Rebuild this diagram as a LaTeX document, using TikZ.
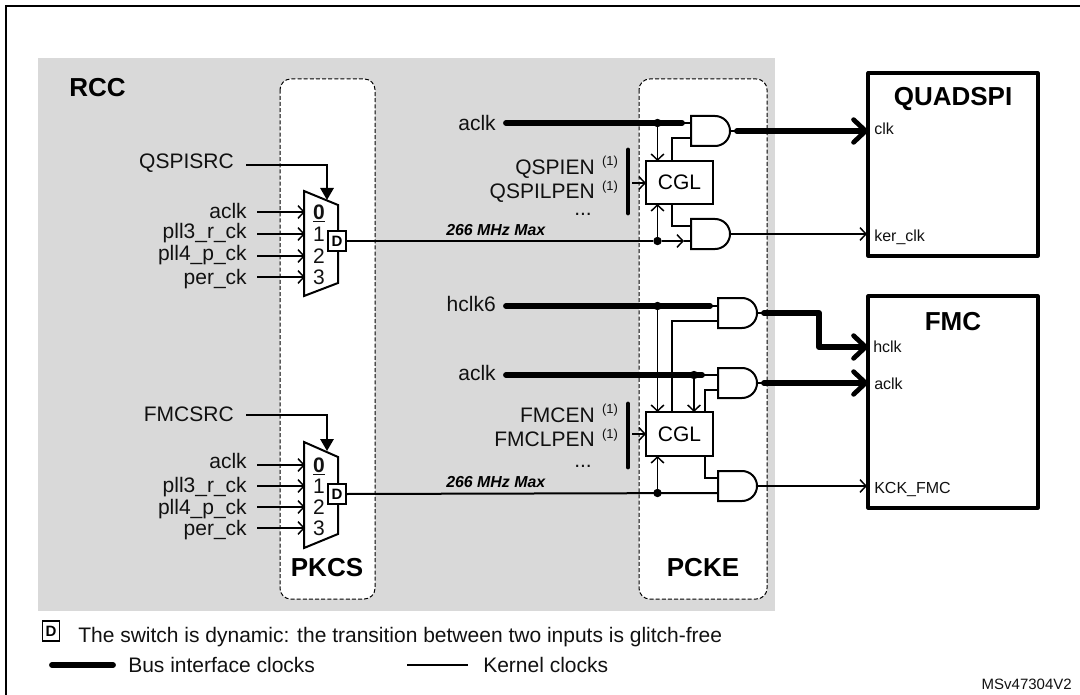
\documentclass[tikz,border=0pt]{standalone}
\usepackage{fontspec}
\setmainfont{Liberation Sans}
\usetikzlibrary{arrows.meta}
\newcommand{\pxf}[1]{\fontsize{\dimexpr #1pt*3/4\relax}{\dimexpr #1pt*3/4\relax}\selectfont}
\definecolor{rccgray}{HTML}{D9D9D9}
\definecolor{inkc}{HTML}{111111}
\tikzset{
  x=0.75pt,y=-0.75pt,
  barbS/.tip={Straight Barb[length=4.5pt,width=9.5pt,line width=1.1pt]},
  barbB/.tip={Straight Barb[round,length=9pt,width=17pt,line width=3.6pt]},
  fillT/.tip={Triangle[length=9pt,width=10pt]},
  thin line/.style={line width=1.1pt,color=black},
  clk/.style={line width=1.5pt,color=black},
  bus/.style={line width=4.4pt,color=black,line cap=round,line join=round},
  sig/.style={thin line,-barbS},
  dotn/.style={circle,fill=black,inner sep=0pt,minimum size=6.3pt},
  lab/.style={anchor=mid east,inner sep=0pt,text=inkc,font=\pxf{21},yshift=-2.8pt},
  num/.style={anchor=mid,inner sep=0pt,text=inkc,font=\pxf{21},yshift=-2.8pt},
  port/.style={anchor=mid west,inner sep=0pt,text=inkc,font=\pxf{16},yshift=-2.2pt},
  heading/.style={anchor=mid,inner sep=0pt,font=\pxf{26}\bfseries,yshift=-4pt},
  sup1/.style={anchor=mid,inner sep=0pt,text=inkc,font=\pxf{13},yshift=-1.8pt},
  freq/.style={anchor=mid west,inner sep=0pt,font=\pxf{15.9}\bfseries\itshape,yshift=-1.8pt},
  legend/.style={anchor=mid west,inner sep=0pt,text=inkc,font=\pxf{21},yshift=-2.8pt},
  dash box/.style={draw=black,fill=white,line width=0.75pt,dashed,dash pattern=on 3pt off 1.6pt,rounded corners=8pt},
  dbox/.style={draw=black,fill=white,line width=1.5pt,inner sep=0pt,minimum width=13pt,minimum height=15pt,font=\pxf{15}\bfseries},
  cgl/.style={draw=black,fill=white,line width=1.5pt,inner sep=0pt,minimum width=50pt,minimum height=32.5pt,font=\pxf{21}},
  periph/.style={draw=black,fill=white,line width=2.4pt,line join=round},
  gate/.style={draw=black,fill=white,line width=1.5pt},
  mux/.style={draw=black,fill=white,line width=1.5pt,line join=miter},
}
\begin{document}
\begin{tikzpicture}
\useasboundingbox (0,0) rectangle (1080,695);
% frame
\draw[line width=1.6pt,black] (6,700) -- (6,6) -- (1085,6);
\fill[rccgray] (38,58) rectangle (775,611);
\draw[dash box] (280,79) rectangle (375,599);
\draw[dash box] (639,79) rectangle (767,599);
\node[heading,anchor=mid west] (rcc) at (69,88) {RCC};
\node[heading] (pkcs) at (327,568) {PKCS};
\node[heading] (pcke) at (703,568) {PCKE};

% mux 1
\draw[mux] (304,191) -- (338,205) -- (338,283) -- (304,296) -- cycle;
\coordinate (sel1) at (327,200);
\node[lab] (qsrc) at (234,161) {QSPISRC};
\coordinate (qs) at (246,165);
\draw[clk,-{fillT}] (qs) -| (sel1);
\foreach \n/\t/\yl/\yi/\d in {a/aclk/211/212/\underline{\textbf{0}},b/pll3\_r\_ck/231/234/1,c/pll4\_p\_ck/253/256/2,d/per\_ck/277/277/3}{
  \node[lab] (l1\n) at (247,\yl) {\t};
  \coordinate (s1\n) at (257,\yi);
  \coordinate (e1\n) at (305,\yi);
  \node[num] (n1\n) at (319,\yi) {\d};
  \draw[sig] (s1\n) -- (e1\n);
}
\node[dbox] (d1) at (337,241) {D};

% mux 2
\draw[mux] (304,442) -- (338,457) -- (338,534) -- (304,548) -- cycle;
\coordinate (sel2) at (327,451);
\node[lab] (fsrc) at (234,414) {FMCSRC};
\coordinate (fs) at (246,415);
\draw[clk,-{fillT}] (fs) -| (sel2);
\foreach \n/\t/\yl/\yi/\d in {a/aclk/461/465/\underline{\textbf{0}},b/pll3\_r\_ck/485/486/1,c/pll4\_p\_ck/507/507/2,d/per\_ck/528/528/3}{
  \node[lab] (l2\n) at (247,\yl) {\t};
  \coordinate (s2\n) at (257,\yi);
  \coordinate (e2\n) at (305,\yi);
  \node[num] (n2\n) at (319,\yi) {\d};
  \draw[sig] (s2\n) -- (e2\n);
}
\node[dbox] (d2) at (337,494) {D};

% peripherals
\draw[periph] (868,73) rectangle (1038,256);
\draw[periph] (868,296) rectangle (1038,508);
\node[heading] (qspi) at (953,97) {QUADSPI};
\node[heading] (fmc) at (953,322) {FMC};
\node[port] (pclk) at (874,128) {clk};
\node[port] (pker) at (874,235) {ker\_clk};
\node[port] (phclk) at (873,346) {hclk};
\node[port] (paclk) at (874,383) {aclk};
\node[port] (pkck) at (874,487) {KCK\_FMC};

% QSPI clock group
\node[lab] (a1) at (496,123) {aclk};
\coordinate (a1s) at (506,123);
\coordinate (a1e) at (682,123);
\draw[clk] (a1e) -- (691,123);
\draw[bus] (a1s) -- (a1e);
\node[cgl] (cgl1) at (679.5,182.5) {CGL};
\node[dotn] (dot1) at (657.5,123) {};
\coordinate (t1) at (657.5,161);
\draw[sig] (dot1) -- (t1);
\draw[clk] (672,161) |- (691,138);
\draw[clk] (672,204) |- (691,226);
\node[dotn] (dot2) at (657.5,241) {};
\coordinate (b1) at (657.5,204);
\draw[sig] (dot2) -- (b1);
\draw[clk] (d1.east) -- (dot2);
\coordinate (g2i) at (691,241);
\draw[sig] (dot2) -- (684,241);
\draw[clk] (684,241) -- (g2i);
\draw[line width=3.7pt,line cap=round] (628,150) -- (628,213);
\coordinate (bar1) at (632,183);
\coordinate (in1) at (646,183);
\draw[sig] (bar1) -- (in1);
\node[lab] (qen) at (595,167) {QSPIEN};
\node[lab] (qlp) at (595,191) {QSPILPEN};
\node[sup1] (qs1) at (610,160) {(1)};
\node[sup1] (qs2) at (610,185) {(1)};
\node[anchor=base,inner sep=0pt,text=inkc,font=\pxf{21}] (qdots) at (583,216) {...};
\node[freq] (f1) at (446,230) {266 MHz Max};

% FMC clock group
\node[lab] (h6) at (496,304) {hclk6};
\draw[clk] (710,306) -- (718,306);
\draw[bus] (506,306) -- (710,306);
\node[dotn] (dot3) at (657.5,306) {};
\node[lab] (a2) at (496,373) {aclk};
\draw[clk] (702,375) -- (718,375);
\draw[bus] (506,375) -- (702,375);
\node[dotn] (dot4) at (694,375) {};
\node[cgl] (cgl2) at (679.5,434) {CGL};
\draw[sig] (dot3) -- (657.5,412);
\draw[sig] (dot4) -- (694,412);
\draw[clk] (672,412) |- (718,321);
\draw[clk] (705,412) |- (718,390);
\draw[clk] (705,456) |- (718,478);
\node[dotn] (dot5) at (657.5,493) {};
\draw[sig] (dot5) -- (657.5,456);
\draw[clk] (d2.east) -- (718,493);
\draw[line width=3.7pt,line cap=round] (628,404) -- (628,467);
\draw[sig] (632,434) -- (646,434);
\node[lab] (fen) at (595,415) {FMCEN};
\node[lab] (flp) at (595,439) {FMCLPEN};
\node[sup1] (fs1) at (610,408) {(1)};
\node[sup1] (fs2) at (610,433) {(1)};
\node[anchor=base,inner sep=0pt,text=inkc,font=\pxf{21}] (fdots) at (583,467) {...};
\node[freq] (f2) at (446,482) {266 MHz Max};

% gates
\foreach \nm/\gx/\gy in {g1/691/116,g2/691/219,g3/718/298,g4/718/368,g5/718/471}{
  \draw[gate] (\gx,\gy) -- ++(24,0) arc[start angle=-90,end angle=90,radius=15] -- ++(-24,0) -- cycle;
}

% outputs
\draw[clk] (730,131) -- (737,131);
\draw[bus,-{barbB}] (737,131) -- (868,131);
\draw[clk,-barbS] (730,234) -- (867,234);
\draw[clk] (757,313) -- (764,313);
\draw[bus,-{barbB}] (764,313) -- (819,313) -- (819,347) -- (868,347);
\draw[clk] (757,383) -- (764,383);
\draw[bus,-{barbB}] (764,383) -- (868,383);
\draw[clk,-barbS] (757,486) -- (867,486);

% legend
\node[dbox,line width=1.2pt] (dl) at (51,631) {D};
\node[legend] (lt) at (78,635) {The switch is dynamic: the transition between two inputs is glitch-free};
\coordinate (bl1) at (52,665);
\coordinate (bl2) at (113,665);
\draw[bus] (bl1) -- (bl2);
\node[legend] (lb) at (128,665) {Bus interface clocks};
\coordinate (kl1) at (407,665);
\coordinate (kl2) at (468,665);
\draw[clk] (kl1) -- (kl2);
\node[legend] (lk) at (483,665) {Kernel clocks};
\node[anchor=mid east,inner sep=0pt,text=inkc,font=\pxf{15},yshift=-2pt] (ms) at (1072,683) {MSv47304V2};
\end{tikzpicture}
\end{document}
